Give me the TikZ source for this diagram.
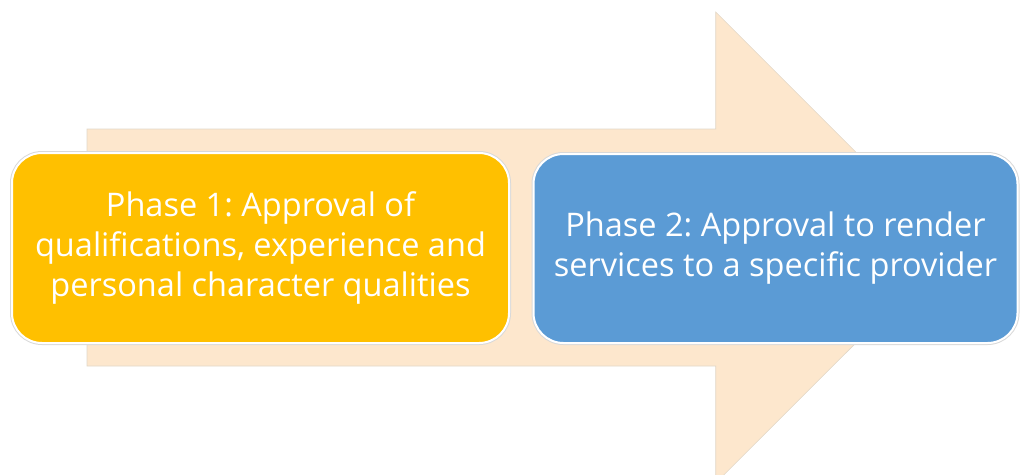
\documentclass[tikz,border=0pt]{standalone}
\usepackage{fontspec}
\setmainfont[Ligatures=NoCommon]{Open Sans}
\definecolor{peach}{RGB}{253,231,205}
\definecolor{peachedge}{RGB}{225,215,200}
\definecolor{gold}{RGB}{255,192,0}
\definecolor{steel}{RGB}{91,155,213}
\frenchspacing
\begin{document}
\begin{tikzpicture}[x=1pt,y=-1pt,
  phasebox/.style={rounded corners=30pt, draw=white, line width=2pt,
    text=white, align=center, inner sep=0pt,
    font=\fontsize{32.5}{40}\selectfont,
    preaction={draw=black!15, line width=4pt}}]
\useasboundingbox (0,0) rectangle (1020,474);
% big arrow
\fill[peach, draw=peachedge, line width=0.6pt]
  (87,129) -- (715.7,129) -- (715.7,12) -- (951.3,247.6) -- (715.7,483)
  -- (715.7,366) -- (87,366) -- cycle;
\node[phasebox, fill=gold, minimum width=497pt, minimum height=190pt]
  (p1) at (260.5,248) {Phase 1: Approval of\\qualifications, experience and\\personal character qualities};
\node[phasebox, fill=steel, minimum width=484pt, minimum height=189pt]
  (p2) at (775.5,248.5) {Phase 2: Approval to render\\services to a specific provider};
\end{tikzpicture}
\end{document}
